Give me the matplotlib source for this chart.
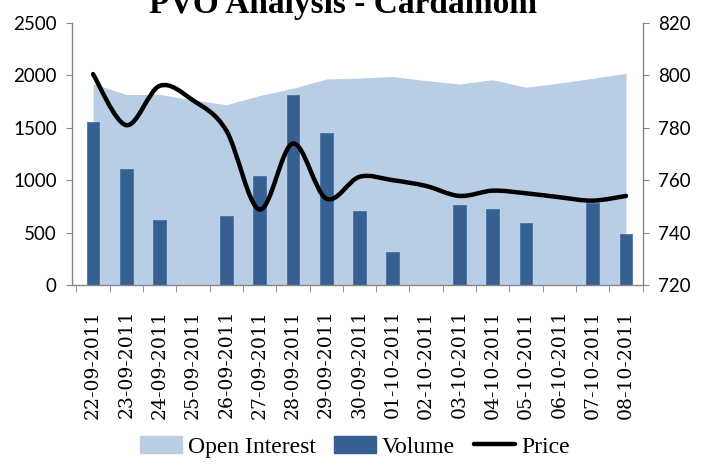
import matplotlib
matplotlib.use('Agg')
import matplotlib.pyplot as plt
import numpy as np
from matplotlib.path import Path
from matplotlib.patches import PathPatch, Patch
from matplotlib.lines import Line2D

dates = ['22-09-2011', '23-09-2011', '24-09-2011', '25-09-2011', '26-09-2011',
         '27-09-2011', '28-09-2011', '29-09-2011', '30-09-2011', '01-10-2011',
         '02-10-2011', '03-10-2011', '04-10-2011', '05-10-2011', '06-10-2011',
         '07-10-2011', '08-10-2011']
open_interest = [1920, 1818, 1818, 1767, 1720, 1808, 1877, 1965, 1975, 1990,
                 1950, 1918, 1959, 1887, 1927, 1972, 2019]
volume = [1555, 1107, 623, 0, 658, 1038, 1811, 1453, 708, 311,
          0, 761, 726, 588, 0, 780, 484]
price = [800.5, 781, 796, 790.5, 779, 748.8, 774, 753, 761.3, 760,
         757.8, 754, 756, 755, 753.5, 752.2, 754]

grey = '#868686'
plt.rcParams['font.family'] = ['Lato', 'DejaVu Sans']

fig = plt.figure(figsize=(7.1, 4.66), dpi=100)
ax = fig.add_axes([72/710, 1-285/466, (643-72)/710, (285-23)/466])
ax2 = ax.twinx()

x = np.arange(len(dates))

# open interest area + volume bars on the left axis
ax.fill_between(x, open_interest, 0, color='#B9CDE5', lw=0, zorder=1)
ax.bar(x, volume, width=0.38, color='#376092', edgecolor='#4A72A3', lw=0.6, zorder=2)

ax.set_xlim(-0.63, 16.51)
ax.set_ylim(0, 2500)
ax.set_yticks(range(0, 2501, 500))
ax2.set_ylim(720, 820)
ax2.set_yticks(range(720, 821, 20))

# smooth price line (bezier segments through the points, like excel)
pts = np.column_stack([x, price]).astype(float)
n = len(pts)
verts = [tuple(pts[0])]
codes = [Path.MOVETO]
for i in range(n - 1):
    p0 = pts[max(i - 1, 0)]
    p1 = pts[i]
    p2 = pts[i + 1]
    p3 = pts[min(i + 2, n - 1)]
    c1 = p1 + (p2 - p0) / 6
    c2 = p2 - (p3 - p1) / 6
    verts += [tuple(c1), tuple(c2), tuple(p2)]
    codes += [Path.CURVE4] * 3
ax2.add_patch(PathPatch(Path(verts, codes), fill=False, ec='black', lw=3.2,
                        capstyle='round', joinstyle='round', zorder=5))

# axes styling
for a in (ax, ax2):
    for s in a.spines.values():
        s.set_visible(False)
ax.spines['left'].set_visible(True)
ax.spines['bottom'].set_visible(True)
ax2.spines['right'].set_visible(True)
for s in (ax.spines['left'], ax.spines['bottom'], ax2.spines['right']):
    s.set_color(grey)
    s.set_linewidth(1)

ax.set_xticks(x)
ax.set_xticklabels(dates, rotation=90)
ax.set_xticks(np.arange(-0.5, len(dates), 1), minor=True)
ax.tick_params(axis='x', which='major', length=0, pad=18, labelsize=13.5,
               labelfontfamily='DejaVu Serif')
ax.tick_params(axis='x', which='minor', length=5, color=grey, direction='out')
ax.tick_params(axis='y', length=4, color=grey, pad=7, labelsize=13.5,
               labelfontfamily='Lato')
ax2.tick_params(axis='y', length=4, color=grey, pad=7, labelsize=13.5,
                labelfontfamily='Lato')

ax.set_zorder(1)
ax2.set_zorder(2)
ax2.patch.set_visible(False)

fig.text(0.483, 1-13/466, 'PVO Analysis - Cardamom', ha='center', va='baseline',
         fontfamily='Liberation Serif', fontweight='bold', fontsize=24)

handles = [Patch(color='#B9CDE5'), Patch(color='#376092'),
           Line2D([], [], color='black', lw=3.2, solid_capstyle='round')]
fig.legend(handles, ['Open Interest', 'Volume', 'Price'], loc='center',
           bbox_to_anchor=(0.5, 1-447/466), ncol=3, frameon=False,
           prop={'family': 'Liberation Serif', 'size': 17},
           handlelength=1.75, handletextpad=0.25, columnspacing=0.8)

plt.savefig('out.png', dpi=100)
